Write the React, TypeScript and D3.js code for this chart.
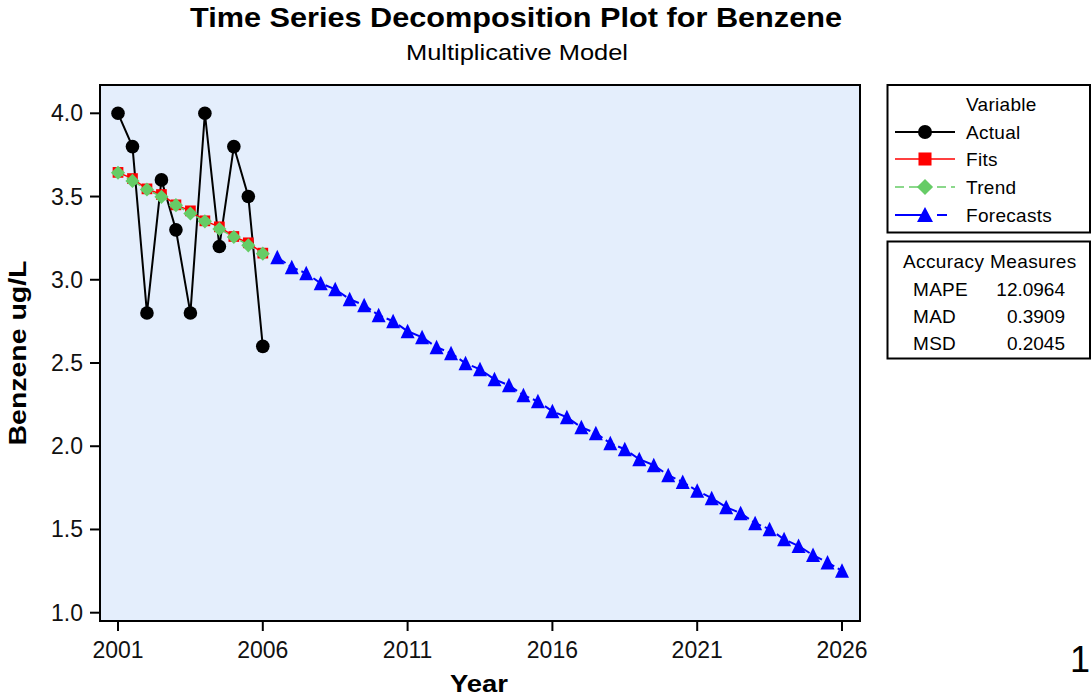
import * as d3 from "d3";
import React from "react";

// Benzene, half-yearly observations 2001 .. 2006
const actual = [4.0, 3.8, 2.8, 3.6, 3.3, 2.8, 4.0, 3.2, 3.8, 3.5, 2.6];
const fits = [3.645, 3.608, 3.546, 3.512, 3.45, 3.414, 3.354, 3.318, 3.26, 3.222, 3.16];
const trend = [3.643, 3.594, 3.542, 3.498, 3.448, 3.398, 3.351, 3.305, 3.257, 3.207, 3.157];
// forecasts 2006.5 .. 2026
const forecasts = [
  3.135, 3.075, 3.039, 2.979, 2.943, 2.883, 2.847, 2.787, 2.751, 2.691,
  2.655, 2.595, 2.559, 2.498, 2.462, 2.402, 2.366, 2.306, 2.27, 2.21,
  2.174, 2.114, 2.078, 2.018, 1.982, 1.922, 1.886, 1.826, 1.785, 1.732,
  1.688, 1.634, 1.598, 1.538, 1.502, 1.441, 1.4, 1.346, 1.302, 1.252,
];
const startYear = 2001;
const step = 0.5;

const xTicks = [2001, 2006, 2011, 2016, 2021, 2026];
const yTicks = [1.0, 1.5, 2.0, 2.5, 3.0, 3.5, 4.0];

const legendLabels = ["Actual", "Fits", "Trend", "Forecasts"];
const accuracyLabels = ["MAPE", "MAD", "MSD"];
const accuracyValues = ["12.0964", "0.3909", "0.2045"];

const W = 1091;
const H = 697;
const plot = { left: 100, right: 860, top: 85, bottom: 621 };
const font = "'Liberation Sans', Arial, sans-serif";
const bg = "#E4EEFC";
const green = "#66CC66";

type Pt = [number, number];

const App: React.FC = () => {
  const x = d3.scaleLinear().domain([2001, 2026]).range([118, 842]);
  const y = d3.scaleLinear().domain([1, 4]).range([612.7, 113.3]);

  const toPts = (vals: number[], offset: number): Pt[] =>
    vals.map((v, i) => [x(startYear + (i + offset) * step), y(v)]);

  const actualPts = toPts(actual, 0);
  const fitPts = toPts(fits, 0);
  const trendPts = toPts(trend, 0);
  const fcPts = toPts(forecasts, actual.length);

  const line = d3.line<Pt>();
  const square = d3.symbol(d3.symbolSquare, 115)()!;
  const diamond = d3.symbol(d3.symbolSquare, 100)()!;
  const triangle = "M0,-7.5L7,7L-7,7Z";
  // legend markers are drawn a bit larger
  const legSquare = d3.symbol(d3.symbolSquare, 170)()!;
  const legDiamond = d3.symbol(d3.symbolSquare, 130)()!;
  const legTriangle = "M0,-8L8,7L-8,7Z";

  // legend geometry
  const legX0 = 895,
    legX1 = 955,
    legMid = 925,
    legText = 966;
  const legRows = [132, 159, 187, 215];

  return (
    <svg
      width={W}
      height={H}
      style={{ position: "absolute", left: 0, top: 0, display: "block" }}
      fontFamily={font}
    >
      <rect width={W} height={H} fill="#fff" />

      {/* titles */}
      <text x={516} y={27} textAnchor="middle" fontSize={28} fontWeight="bold" textLength={652} lengthAdjust="spacingAndGlyphs">
        Time Series Decomposition Plot for Benzene
      </text>
      <text x={517} y={60} textAnchor="middle" fontSize={22} textLength={222} lengthAdjust="spacingAndGlyphs">
        Multiplicative Model
      </text>

      {/* plot area */}
      <rect
        x={plot.left}
        y={plot.top}
        width={plot.right - plot.left}
        height={plot.bottom - plot.top}
        fill={bg}
        stroke="#000"
        strokeWidth={2}
      />

      {/* y axis */}
      {yTicks.map((t) => (
        <g key={t}>
          <line x1={90} x2={plot.left} y1={y(t)} y2={y(t)} stroke="#000" strokeWidth={2} />
          <text x={83} y={y(t) + 8} textAnchor="end" fontSize={23} fill="#111">
            {d3.format(".1f")(t)}
          </text>
        </g>
      ))}
      <text
        transform={`translate(26,${(plot.top + plot.bottom) / 2}) rotate(-90)`}
        textAnchor="middle"
        fontSize={23}
        fontWeight="bold"
        textLength={185}
        lengthAdjust="spacingAndGlyphs"
      >
        Benzene ug/L
      </text>

      {/* x axis */}
      {xTicks.map((t) => (
        <g key={t}>
          <line x1={x(t)} x2={x(t)} y1={plot.bottom} y2={plot.bottom + 10} stroke="#000" strokeWidth={2} />
          <text x={x(t)} y={658} textAnchor="middle" fontSize={23} fill="#111">
            {t}
          </text>
        </g>
      ))}
      <text x={479} y={692} textAnchor="middle" fontSize={23} fontWeight="bold" textLength={58} lengthAdjust="spacingAndGlyphs">
        Year
      </text>

      {/* series */}
      <path d={line(actualPts)!} fill="none" stroke="#000" strokeWidth={2} />
      {actualPts.map((p, i) => (
        <circle key={i} cx={p[0]} cy={p[1]} r={6.8} fill="#000" />
      ))}

      <path d={line(fitPts)!} fill="none" stroke="#FF0000" strokeWidth={1.5} />
      {fitPts.map((p, i) => (
        <path key={i} d={square} transform={`translate(${p[0]},${p[1]})`} fill="#FF0000" />
      ))}

      <path d={line(trendPts)!} fill="none" stroke={green} strokeWidth={1.5} strokeDasharray="6,4" />
      {trendPts.map((p, i) => (
        <path key={i} d={diamond} transform={`translate(${p[0]},${p[1]}) rotate(45)`} fill={green} />
      ))}

      <path d={line(fcPts)!} fill="none" stroke="#0000FF" strokeWidth={2} strokeDasharray="10,4" />
      {fcPts.map((p, i) => (
        <path key={i} d={triangle} transform={`translate(${p[0]},${p[1]})`} fill="#0000FF" />
      ))}

      {/* legend */}
      <rect x={887.5} y={85} width={202.5} height={147.5} fill="#fff" stroke="#000" strokeWidth={2} />
      <text x={legText} y={111} fontSize={19} letterSpacing={0.3}>
        Variable
      </text>
      {legendLabels.map((lab, i) => {
        const ly = legRows[i];
        return (
          <g key={lab}>
            {i === 0 && (
              <>
                <line x1={legX0} x2={legX1} y1={ly} y2={ly} stroke="#000" strokeWidth={2} />
                <circle cx={legMid} cy={ly} r={7} fill="#000" />
              </>
            )}
            {i === 1 && (
              <>
                <line x1={legX0} x2={legX1} y1={ly} y2={ly} stroke="#FF0000" strokeWidth={1.5} />
                <path d={legSquare} transform={`translate(${legMid},${ly})`} fill="#FF0000" />
              </>
            )}
            {i === 2 && (
              <>
                <line x1={legX0} x2={legX1} y1={ly} y2={ly} stroke={green} strokeWidth={1.5} strokeDasharray="9,5" />
                <path d={legDiamond} transform={`translate(${legMid},${ly}) rotate(45)`} fill={green} />
              </>
            )}
            {i === 3 && (
              <>
                <line x1={legX0} x2={legX1} y1={ly} y2={ly} stroke="#0000FF" strokeWidth={2} strokeDasharray="28,14,10,60" />
                <path d={legTriangle} transform={`translate(${legMid},${ly})`} fill="#0000FF" />
              </>
            )}
            <text x={legText} y={ly + 7} fontSize={19} letterSpacing={0.3}>
              {lab}
            </text>
          </g>
        );
      })}

      {/* accuracy measures */}
      <rect x={887.5} y={241.5} width={202.5} height={117} fill="#fff" stroke="#000" strokeWidth={2} />
      <text x={903} y={268} fontSize={19} letterSpacing={0.4}>
        Accuracy Measures
      </text>
      {accuracyLabels.map((lab, i) => (
        <g key={lab}>
          <text x={913} y={296 + i * 27} fontSize={19} letterSpacing={0.3}>
            {lab}
          </text>
          <text x={1065} y={296 + i * 27} fontSize={19} textAnchor="end">
            {accuracyValues[i]}
          </text>
        </g>
      ))}

      <text x={1090} y={672} fontSize={36} textAnchor="end">
        1
      </text>
    </svg>
  );
};

export default App;
